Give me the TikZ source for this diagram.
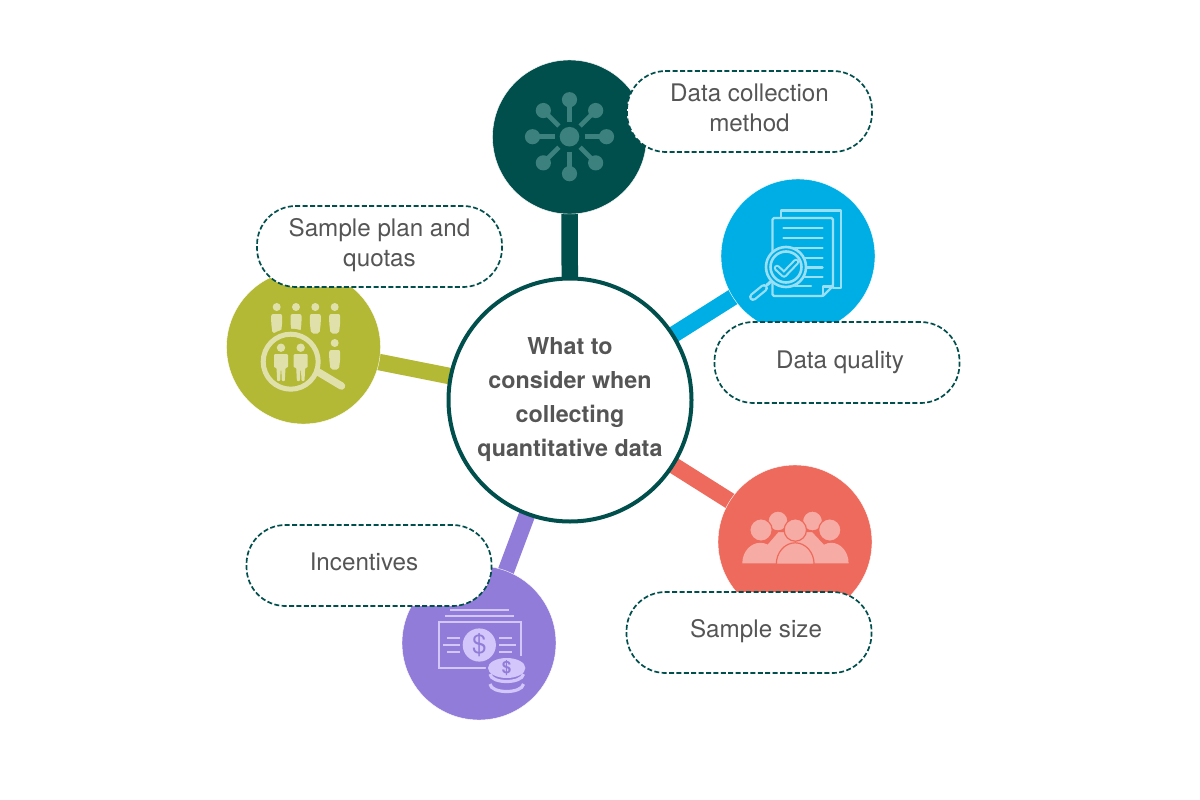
\documentclass[tikz,border=0pt]{standalone}
\usepackage{fontspec}
\setmainfont{TeX Gyre Heros}
\usetikzlibrary{backgrounds}
\definecolor{cteal}{HTML}{004F4C}
\definecolor{cblue}{HTML}{00AEE6}
\definecolor{colive}{HTML}{B3B835}
\definecolor{cred}{HTML}{EE6A5C}
\definecolor{cpurple}{HTML}{917CD9}
\definecolor{iteal}{HTML}{3D817E}
\definecolor{iblue}{HTML}{99DFF6}
\definecolor{iolive}{HTML}{E0E1AA}
\definecolor{ired}{HTML}{F6ABA4}
\definecolor{ipurple}{HTML}{D3C6FA}
\definecolor{ctext}{HTML}{555555}
\tikzset{
  x=1pt,y=-1pt,
  topic/.style={circle,minimum size=154pt,inner sep=0pt,fill=#1,draw=white,line width=0.4pt},
  link/.style={line width=16.5pt},
  pill/.style={draw=cteal,fill=white,line width=1.7pt,dash pattern=on 5pt off 2.4pt,rounded corners=39pt,
    minimum width=245pt,minimum height=81pt,inner sep=0pt},
  pilltext/.style={inner sep=0pt,align=center,text=ctext,font=\fontsize{24.2}{30}\selectfont},
  hubnode/.style={circle,draw=cteal,line width=4pt,fill=white,minimum size=243pt,inner sep=0pt,align=center,text=ctext,
    font=\fontsize{23.3}{34}\selectfont\bfseries},
}
\newcommand{\hdperson}[3]{% x, head y, colour: head and tapered body
  \fill[#3] (#1,#2) circle (4);
  \fill[#3,rounded corners=2pt] ({#1-5.5},{#2+7}) -- ({#1+5.5},{#2+7}) -- ({#1+5.5},{#2+16}) -- ({#1+4.2},{#2+26.5}) -- ({#1-4.2},{#2+26.5}) -- ({#1-5.5},{#2+16}) -- cycle;
}
\newcommand{\lensperson}[3]{% x, head y, colour
  \fill[#3] (#1,#2) circle (4.2);
  \fill[#3,rounded corners=1pt] ({#1-7},{#2+6.5}) -- ({#1+7},{#2+6.5}) -- ({#1+7},{#2+20}) -- ({#1+4.5},{#2+20}) -- ({#1+3.8},{#2+33.5}) -- ({#1+0.8},{#2+33.5}) -- ({#1+0.3},{#2+22}) -- ({#1-0.3},{#2+22}) -- ({#1-0.8},{#2+33.5}) -- ({#1-3.8},{#2+33.5}) -- ({#1-4.5},{#2+20}) -- ({#1-7},{#2+20}) -- cycle;
}
\begin{document}
\begin{tikzpicture}
\useasboundingbox (0,0) rectangle (1200,800);
% topic circles
\node[topic=cteal] (c1) at (569.5,137) {};
\node[topic=cblue] (c2) at (798,256) {};
\node[topic=cred] (c3) at (795,542) {};
\node[topic=cpurple] (c4) at (479,643) {};
\node[topic=colive] (c5) at (303.5,347) {};
% network icon
\begin{scope}[shift={(569.5,136.7)}]
  \fill[iteal] (0,0) circle (9.8);
  \foreach \a in {0,45,...,315}{
    \draw[iteal,line width=4.6pt] (\a:15) -- (\a:37);
    \fill[iteal] (\a:37) circle (7.6);
  }
\end{scope}
% document icon
\begin{scope}[iblue,line width=2.4pt,line join=round,line cap=round]
  \draw (781,217) -- (781,210.5) -- (841,210.5) -- (841,288) -- (833,288);
  \draw[rounded corners=1.5pt] (823,296) -- (772.5,296) -- (772.5,218) -- (833,218) -- (833,286) -- cycle;
  \draw (823,296) -- (823,286.5) -- (833,286.5);
  \foreach \y in {228,237.7,247.7,257.7,267.3,277}{\draw (783.5,\y) -- (822.5,\y);}
  \draw (790,285.7) -- (811,285.7);
  \fill[cblue] (786,267) circle (21);
  \draw[line width=2.6pt] (786,267) circle (20);
  \draw[line width=2.6pt] (786,267) circle (15.5);
  \draw[line width=6.5pt,line join=round] (777,268) -- (784,274.5) -- (796,262);
  \draw[cblue,line width=2.2pt,line join=round] (777,268) -- (784,274.5) -- (796,262);
  \draw[line width=3pt] (771.5,281) -- (767,285);
  \draw[line width=8pt] (764,288) -- (753,297);
  \draw[cblue,line width=3.4pt] (764,288) -- (753,297);
\end{scope}
% people-under-lens icon
\hdperson{276.7}{307}{iolive}
\hdperson{296}{307}{iolive}
\hdperson{315.3}{307}{iolive}
\hdperson{334.7}{307}{iolive}
\hdperson{334.7}{343}{iolive}
\fill[colive] (290.7,361.7) circle (33);
\draw[iolive,line width=5pt] (290.7,361.7) circle (27.5);
\draw[iolive,line width=7.5pt,line cap=round] (319,372.5) -- (341.5,386);
\lensperson{281}{347.7}{iolive}
\lensperson{300.7}{347.7}{iolive}
% group icon
\begin{scope}[every path/.style={fill=ired,draw=cred,line width=1.2pt}]
  \path (778,521) circle (10);
  \path (812.5,521) circle (10);
  \path (764,563.3) -- (778,531.5) -- (795,552) -- (778,563.3) -- cycle;
  \path (778,531.5) -- (812.5,531.5) -- (830,550) -- (812,563.3) -- (778,563.3) -- (762,550) -- cycle;
  \path (761,530) circle (11.2);
  \path (795.3,530) circle (11.2);
  \path (829.8,530) circle (11.2);
  \path[draw=none] (742.3,563.3) arc[start angle=180,end angle=0,x radius=18,y radius=-20.5] -- cycle;
  \path[draw=none] (814,563.3) arc[start angle=180,end angle=0,x radius=17.3,y radius=-20.5] -- cycle;
  \path (776.3,564.2) arc[start angle=180,end angle=0,x radius=18.9,y radius=-21.4] -- cycle;
\end{scope}
% money icon
\begin{scope}[ipurple]
  \draw[line width=2.4pt] (450,610) -- (509,610);
  \draw[line width=2.4pt] (445,616) -- (514,616);
  \draw[line width=2pt] (489,667.5) -- (439,667.5) -- (439,622.2) -- (520.5,622.2) -- (520.5,656);
  \fill (479.3,645) circle (16.6);
  \node[text=cpurple,font=\fontsize{26}{26}\selectfont] (d1) at (479.3,645) {\$};
  \foreach \y/\a/\b in {638.3/446.7/460,645/442.5/460,652.3/446.7/460}{\draw[line width=2pt] (\a,\y) -- (\b,\y);}
  \foreach \y/\a/\b in {638.3/499/511.7,645/499/515.7,652.3/499/511.7}{\draw[line width=2pt] (\a,\y) -- (\b,\y);}
  \fill[cpurple] (506.7,669) ellipse (21 and 12.5);
  \draw[line width=3.2pt] (490,674) .. controls (491,684) and (522,684) .. (523.5,674);
  \draw[line width=3.2pt] (490,684) .. controls (491,694) and (522,694) .. (523.5,684);
  \fill (506.7,668) ellipse (18.7 and 10);
  \node[text=cpurple,font=\fontsize{17}{17}\selectfont\bfseries] (d2) at (506.7,668.3) {\$};
\end{scope}
% pills
\node[pill] (p1) at (749.5,111.5) {};
\node[pilltext] (t1) at (749.5,108) {Data collection\\method};
\node[pill] (p2) at (837,362.5) {};
\node[pilltext] (t2) at (840,362) {Data quality};
\node[pill] (p3) at (749,632.5) {};
\node[pilltext] (t3) at (756,631) {Sample size};
\node[pill] (p4) at (369,565.5) {};
\node[pilltext] (t4) at (364,562) {Incentives};
\node[pill] (p5) at (379.5,246.5) {};
\node[pilltext] (t5) at (379.5,245) {Sample plan and\\quotas};
% hub
\node[hubnode] (hub) at (570,400) {What to\\consider when\\collecting\\quantitative data};
% connectors
\begin{pgfonlayer}{background}
  \draw[cteal,link] (hub.center) -- (c1.center);
  \draw[cblue,link] (hub.center) -- (c2.center);
  \draw[cred,link] (hub.center) -- (c3.center);
  \draw[cpurple,link] (hub.center) -- (c4.center);
  \draw[colive,link] (hub.center) -- (c5.center);
\end{pgfonlayer}
\end{tikzpicture}
\end{document}
